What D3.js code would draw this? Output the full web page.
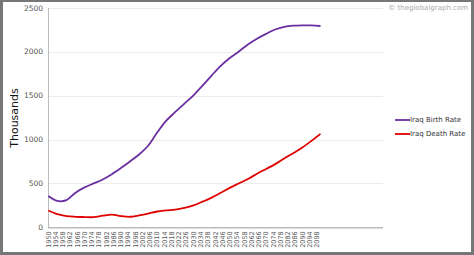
<!DOCTYPE html>
<html lang="en">
<head>
    <meta charset="UTF-8">
    <title>Iraq Birth and Death Rate</title>
    <script src="https://d3js.org/d3.v7.min.js"></script>
    <style>
        body { margin: 0; background: #fff; }
        svg { display: block; }
        text { font-family: 'DejaVu Sans', Verdana, sans-serif; }
    </style>
</head>
<body>
    <script>
        // Data (thousands)
        const years = [1950, 1955, 1960, 1965, 1970, 1975, 1980, 1985, 1990, 1995,
                       2000, 2005, 2010, 2015, 2020, 2025, 2030, 2035, 2040, 2045,
                       2050, 2055, 2060, 2065, 2070, 2075, 2080, 2085, 2090, 2095, 2100];
        const birthRate = [356, 300, 310, 395, 455, 500, 545, 605, 675, 750,
                           830, 930, 1080, 1215, 1315, 1410, 1505, 1615, 1730, 1840,
                           1930, 2005, 2085, 2150, 2205, 2255, 2285, 2298, 2302, 2302, 2295];
        const deathRate = [192, 150, 128, 120, 117, 115, 132, 145, 128, 120,
                           135, 155, 180, 192, 202, 222, 250, 292, 338, 393,
                           450, 500, 550, 610, 665, 720, 785, 845, 910, 985, 1065];
        const yTicks = [0, 500, 1000, 1500, 2000, 2500];
        const xTickYears = d3.range(1950, 2099, 4);
        const seriesNames = ["Iraq Birth Rate", "Iraq Death Rate"];
        const seriesColors = ["#6a2fa0", "#e00000"];

        const W = 474, H = 255;
        const svg = d3.select("body").append("svg")
            .attr("width", W).attr("height", H);

        // frame
        svg.append("rect").attr("x", 0).attr("y", 0).attr("width", W).attr("height", H)
            .attr("fill", "#777");
        svg.append("rect").attr("x", 3).attr("y", 2).attr("width", W - 6).attr("height", H - 5)
            .attr("fill", "#fff");

        const plotLeft = 48, plotRight = 383;
        const x = d3.scaleLinear().domain([1950, 2100]).range([48.3, 320.5]);
        const y = d3.scaleLinear().domain([0, 2500]).range([227.3, 8]);

        // grid
        svg.append("g").selectAll("line").data(yTicks.slice(1)).join("line")
            .attr("x1", plotLeft).attr("x2", plotRight)
            .attr("y1", d => Math.round(y(d)) + 0.5).attr("y2", d => Math.round(y(d)) + 0.5)
            .attr("stroke", "#ececec");

        // y axis line
        svg.append("line")
            .attr("x1", plotLeft + 0.5).attr("x2", plotLeft + 0.5)
            .attr("y1", y(2500)).attr("y2", y(0))
            .attr("stroke", "#bbb");

        // x axis line
        svg.append("line")
            .attr("x1", plotLeft).attr("x2", plotRight)
            .attr("y1", y(0) + 0.5).attr("y2", y(0) + 0.5)
            .attr("stroke", "#bbb").attr("stroke-width", 1.5);

        // y tick labels
        svg.append("g").selectAll("text").data(yTicks).join("text")
            .attr("x", 43).attr("y", d => y(d))
            .attr("dy", "0.35em")
            .attr("text-anchor", "end")
            .attr("font-size", 7.5)
            .attr("fill", "#555")
            .text(d => d);

        // x tick labels (rotated)
        svg.append("g").selectAll("text").data(xTickYears).join("text")
            .attr("transform", d => `translate(${x(d)},${y(0) + 4}) rotate(-90)`)
            .attr("dy", "0.35em")
            .attr("text-anchor", "end")
            .attr("font-size", 6.5)
            .attr("fill", "#555")
            .text(d => d);

        // y axis title
        svg.append("text")
            .attr("transform", `translate(18,118) rotate(-90)`)
            .attr("text-anchor", "middle")
            .attr("font-size", 11)
            .attr("fill", "#111")
            .text("Thousands");

        // lines
        const line = d3.line()
            .x((d, i) => x(years[i]))
            .y(d => y(d))
            .curve(d3.curveCatmullRom);

        [birthRate, deathRate].forEach((s, k) => {
            svg.append("path")
                .datum(s)
                .attr("d", line)
                .attr("fill", "none")
                .attr("stroke", seriesColors[k])
                .attr("stroke-width", 1.8);
        });

        // legend
        const legend = svg.append("g").selectAll("g").data(seriesNames).join("g")
            .attr("transform", (d, i) => `translate(395,${120 + i * 14})`);
        legend.append("line")
            .attr("x1", 0).attr("x2", 15)
            .attr("stroke", (d, i) => seriesColors[i])
            .attr("stroke-width", 1.8);
        legend.append("text")
            .attr("x", 15).attr("dy", "0.35em")
            .attr("font-size", 7)
            .attr("fill", "#333")
            .text(d => d);

        // watermark
        svg.append("text")
            .attr("x", 468).attr("y", 10)
            .attr("text-anchor", "end")
            .attr("font-size", 7)
            .attr("fill", "#aaa")
            .text("\u00a9 theglobalgraph.com");
    </script>
</body>
</html>
